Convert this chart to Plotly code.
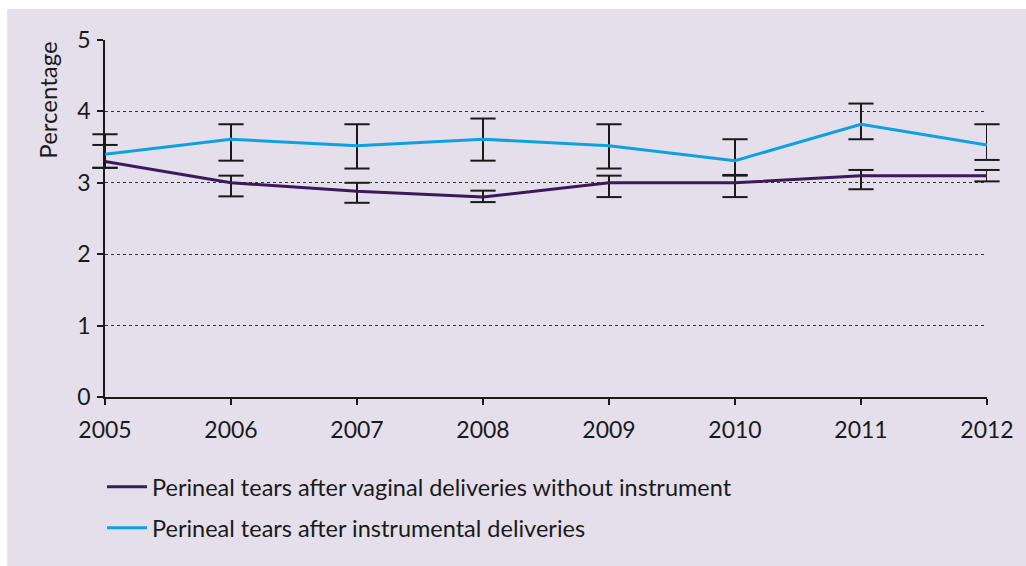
import plotly.graph_objects as go

years = [2005, 2006, 2007, 2008, 2009, 2010, 2011, 2012]

# Perineal tears after vaginal deliveries without instrument (%)
no_instr = [3.3, 3.0, 2.88, 2.8, 3.0, 3.0, 3.1, 3.1]
no_instr_hi = [3.53, 3.1, 3.0, 2.89, 3.1, 3.1, 3.18, 3.18]
no_instr_lo = [3.21, 2.81, 2.72, 2.73, 2.8, 2.8, 2.91, 3.02]

# Perineal tears after instrumental deliveries (%)
instr = [3.4, 3.61, 3.52, 3.61, 3.52, 3.31, 3.82, 3.53]
instr_hi = [3.68, 3.82, 3.82, 3.9, 3.82, 3.61, 4.11, 3.82]
instr_lo = [3.21, 3.31, 3.2, 3.31, 3.2, 3.11, 3.61, 3.32]

names = ["Perineal tears after vaginal deliveries without instrument",
         "Perineal tears after instrumental deliveries"]

PURPLE = "#3b1a5c"
BLUE = "#0ea1e2"
INK = "#1a1a1a"
BG = "#e4dfeb"
FONT = "Lato"
FS = 23

W, H = 1026, 566
L, R, T, B = 105, 37, 40, 169
pw, ph = W - L - R, H - T - B


def px_x(x):
    return (x - L) / pw


def px_y(y):
    return (H - B - y) / ph


fig = go.Figure()
series = [
    (no_instr, no_instr_hi, no_instr_lo, PURPLE, names[0], "legend"),
    (instr, instr_hi, instr_lo, BLUE, names[1], "legend2"),
]
for vals, hi, lo, color, name, leg in series:
    up = [h - v for v, h in zip(vals, hi)]
    down = [v - l for v, l in zip(vals, lo)]
    fig.add_trace(go.Scatter(
        x=years, y=vals, mode="lines", name=name, legend=leg,
        line=dict(color=color, width=3),
        # stems only; caps are drawn as unclipped markers below
        error_y=dict(type="data", symmetric=False, array=up, arrayminus=down,
                     color=INK, thickness=2, width=0),
    ))

# confidence-interval caps
for vals, hi, lo, color, name, leg in series:
    fig.add_trace(go.Scatter(
        x=years + years, y=hi + lo, mode="markers", showlegend=False,
        hoverinfo="skip", cliponaxis=False,
        marker=dict(symbol="line-ew", size=18, line=dict(color=INK, width=2)),
    ))

legend_style = dict(font=dict(family=FONT, size=23.5, color=INK),
                    bgcolor="rgba(0,0,0,0)", xanchor="left", yanchor="middle",
                    itemwidth=40, tracegroupgap=0)

axis_common = dict(
    showline=True, linecolor=INK, linewidth=1.5,
    ticks="outside", ticklen=6, tickcolor=INK, tickwidth=1.5,
    tickfont=dict(family=FONT, size=FS, color=INK),
    zeroline=False, fixedrange=True,
)

fig.update_layout(
    width=W, height=H,
    margin=dict(l=L, r=R, t=T, b=B),
    paper_bgcolor="white",
    plot_bgcolor="white",
    font=dict(family=FONT, size=FS, color=INK),
    showlegend=True,
    legend=dict(x=px_x(102), y=px_y(487), **legend_style),
    legend2=dict(x=px_x(102), y=px_y(528), **legend_style),
    xaxis=dict(
        range=[2005, 2012], tickmode="array", tickvals=years,
        ticktext=[str(y) for y in years], showgrid=False,
        ticklabelstandoff=6, **axis_common,
    ),
    yaxis=dict(
        range=[0, 5], tickvals=[0, 1, 2, 3, 4, 5],
        showgrid=True, gridcolor="#333333", griddash="dot", gridwidth=1,
        ticklabelstandoff=2, **axis_common,
    ),
    shapes=[dict(type="rect", xref="paper", yref="paper", layer="below",
                 x0=px_x(7), x1=px_x(W + 5), y0=px_y(H + 5), y1=px_y(9),
                 fillcolor=BG, line=dict(width=0))],
    annotations=[dict(text="Percentage", textangle=-90, xref="paper", yref="paper",
                      x=px_x(47), y=px_y(40), xanchor="center", yanchor="top",
                      showarrow=False, font=dict(family=FONT, size=24, color=INK))],
)

fig.write_html("out.html")
